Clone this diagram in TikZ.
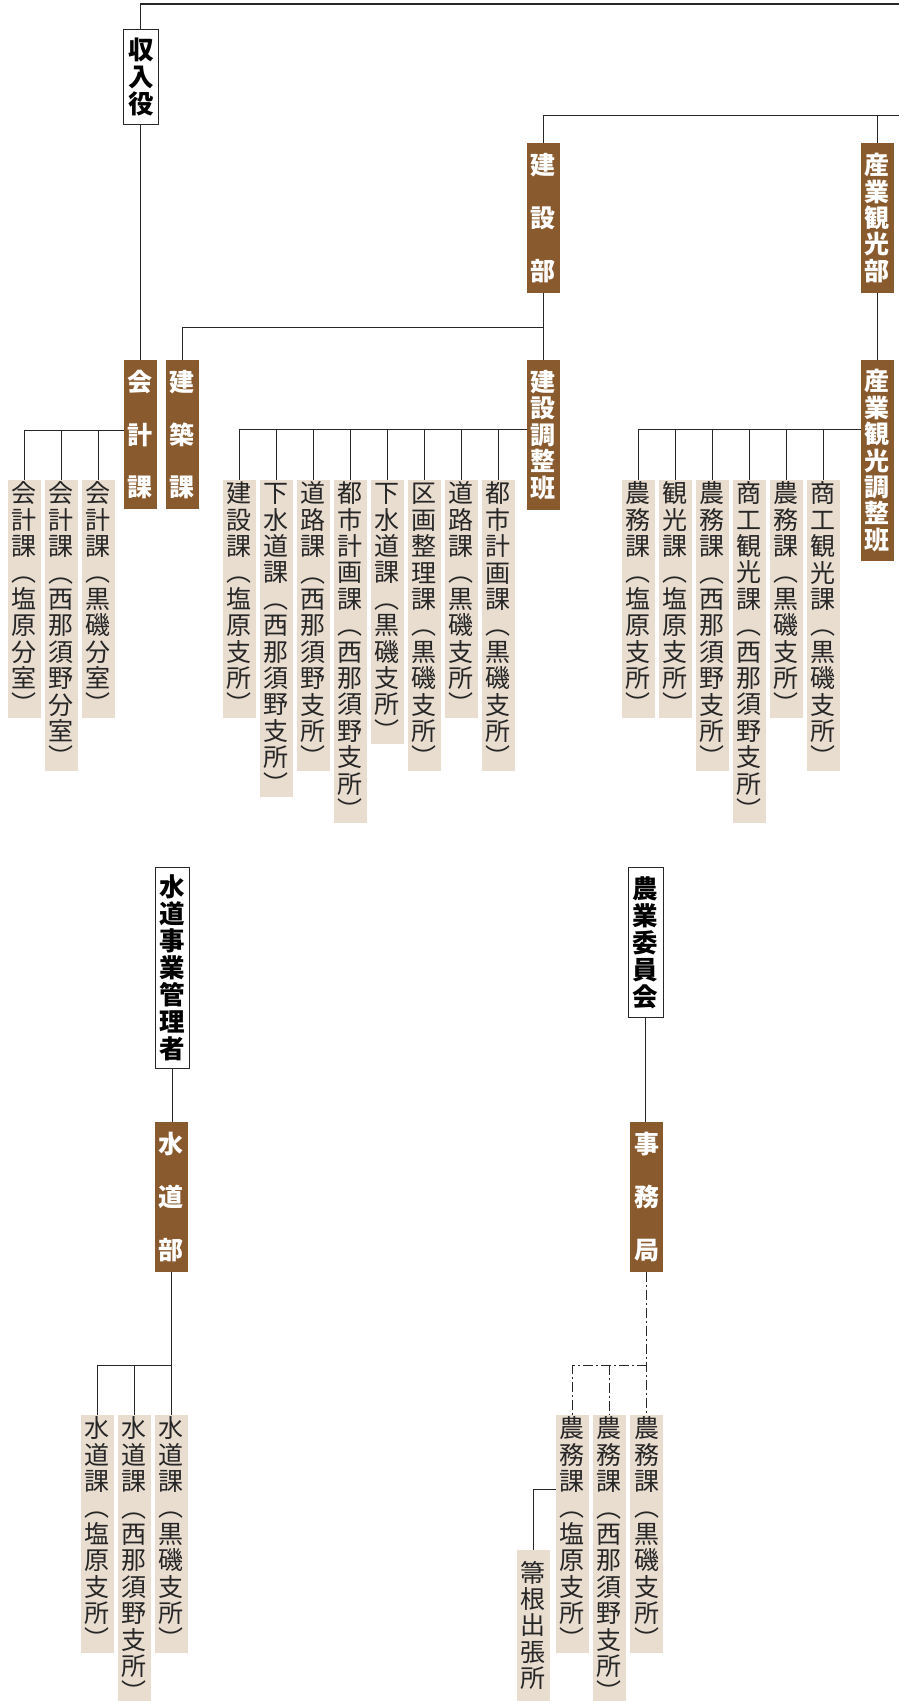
\documentclass[tikz,border=0pt]{standalone}
\usepackage{fontspec}
\newfontfamily\jp{Noto Sans CJK JP}
\definecolor{brownc}{RGB}{137,90,46}
\definecolor{beigec}{RGB}{233,221,208}
\definecolor{linec}{RGB}{40,40,40}
\definecolor{textc}{RGB}{38,38,38}
\def\vtxtloop#1{\ifx#1\relax\else\hbox to 1.2em{\hss\vrule height .908em depth .148em width 0pt #1\hss}\expandafter\vtxtloop\fi}
\newcommand\vtxt[1]{\vbox{\offinterlineskip\vtxtloop#1\relax}}
\tikzset{
  conn/.style={draw=linec, line width=1.2pt},
  ddot/.style={conn, dash pattern=on 10pt off 3pt on 2pt off 3pt},
  bx/.style={anchor=north west, inner sep=0pt, outer sep=0pt, minimum width=32.7pt},
  beige/.style={bx, fill=beigec, text=textc, font=\jp\fontsize{25}{25}\selectfont},
  brown/.style={bx, fill=brownc, text=white, font=\jp\bfseries\fontsize{25}{25}\selectfont},
  head/.style={bx, draw=linec, line width=1pt, fill=white, text=black, font=\jp\bfseries\fontsize{25.5}{25.5}\selectfont, minimum width=34.5pt},
}
\begin{document}
\begin{tikzpicture}[x=1pt,y=-1pt]
\fill[white] (0,0) rectangle (899,1701);
\useasboundingbox (0,0) rectangle (899,1701);

% top level
\node[head, minimum height=95pt, minimum width=34.3pt] (shunyu) at (123.7,29.3) {\vtxt{収入役}};
\node[brown, minimum height=149.3pt] (kaikei) at (124,360) {\vtxt{会　計　課}};
\node[brown, minimum height=149.3pt] (kenchiku) at (166,360) {\vtxt{建　築　課}};
\node[brown, minimum height=149.4pt] (kensetsubu) at (527,143.2) {\vtxt{建　設　部}};
\node[brown, minimum height=149.4pt] (sangyobu) at (861,143.2) {\vtxt{産業観光部}};
\node[brown, minimum height=149.7pt] (kchosei) at (527,360) {\vtxt{建設調整班}};
\node[brown, minimum height=201.2pt] (schosei) at (861,360) {\vtxt{産業観光調整班}};

% kaikei children
\node[beige, minimum height=237.3pt] (k1) at (8,480) {\vtxt{会計課︵塩原分室︶}};
\node[beige, minimum height=290.7pt] (k2) at (45,480) {\vtxt{会計課︵西那須野分室︶}};
\node[beige, minimum height=237.3pt] (k3) at (82,480) {\vtxt{会計課︵黒磯分室︶}};

% kensetsu children
\node[beige, minimum height=237.3pt] (c1) at (223,480) {\vtxt{建設課︵塩原支所︶}};
\node[beige, minimum height=316.7pt] (c2) at (260,480) {\vtxt{下水道課︵西那須野支所︶}};
\node[beige, minimum height=290.7pt] (c3) at (297,480) {\vtxt{道路課︵西那須野支所︶}};
\node[beige, minimum height=343.3pt] (c4) at (334,480) {\vtxt{都市計画課︵西那須野支所︶}};
\node[beige, minimum height=263.3pt] (c5) at (371,480) {\vtxt{下水道課︵黒磯支所︶}};
\node[beige, minimum height=290.7pt] (c6) at (408,480) {\vtxt{区画整理課︵黒磯支所︶}};
\node[beige, minimum height=237.3pt] (c7) at (445,480) {\vtxt{道路課︵黒磯支所︶}};
\node[beige, minimum height=290.7pt] (c8) at (482,480) {\vtxt{都市計画課︵黒磯支所︶}};

% sangyo children
\node[beige, minimum height=237.3pt] (s1) at (622,480) {\vtxt{農務課︵塩原支所︶}};
\node[beige, minimum height=237.3pt] (s2) at (659,480) {\vtxt{観光課︵塩原支所︶}};
\node[beige, minimum height=290.7pt] (s3) at (696,480) {\vtxt{農務課︵西那須野支所︶}};
\node[beige, minimum height=343.3pt] (s4) at (733,480) {\vtxt{商工観光課︵西那須野支所︶}};
\node[beige, minimum height=237.3pt] (s5) at (770,480) {\vtxt{農務課︵黒磯支所︶}};
\node[beige, minimum height=290.7pt] (s6) at (807,480) {\vtxt{商工観光課︵黒磯支所︶}};

% suido
\node[head, minimum height=200.6pt, minimum width=34.7pt] (suidokanri) at (155,867.7) {\vtxt{水道事業管理者}};
\node[brown, minimum height=149.7pt] (suidobu) at (155,1122) {\vtxt{水　道　部}};
\node[beige, minimum height=237.3pt] (w1) at (81,1415) {\vtxt{水道課︵塩原支所︶}};
\node[beige, minimum height=290.7pt] (w2) at (118,1415) {\vtxt{水道課︵西那須野支所︶}};
\node[beige, minimum height=237.3pt] (w3) at (155,1415) {\vtxt{水道課︵黒磯支所︶}};

% nogyo
\node[head, minimum height=149.6pt, minimum width=34.7pt] (nogyo) at (628.3,867.7) {\vtxt{農業委員会}};
\node[brown, minimum height=149.7pt, minimum width=33pt] (jimu) at (630,1122) {\vtxt{事　務　局}};
\node[beige, minimum height=237.3pt] (n1) at (556,1415) {\vtxt{農務課︵塩原支所︶}};
\node[beige, minimum height=290.7pt] (n2) at (593,1415) {\vtxt{農務課︵西那須野支所︶}};
\node[beige, minimum height=237.3pt, minimum width=33pt] (n3) at (630,1415) {\vtxt{農務課︵黒磯支所︶}};
\node[beige, minimum height=150.7pt] (houki) at (517,1550) {\vtxt{箒根出張所}};

% connectors
\coordinate (topR) at (899,4);
\coordinate (midR) at (899,115.8);
\draw[conn] (shunyu.north) |- (topR);
\draw[conn] (kensetsubu.north) |- (midR);
\draw[conn] (sangyobu.north) -- (sangyobu.north |- midR);
\draw[conn] (shunyu.south) -- (shunyu.south |- kaikei.north);
\draw[conn] (kensetsubu.south) -- (kchosei.north);
\coordinate (kjunc) at (543.35,327.4);
\draw[conn] (kenchiku.north) |- (kjunc);
\draw[conn] (sangyobu.south) -- (schosei.north);

\coordinate (kbus) at (124,430.7);
\foreach \n in {k1,k2,k3} \draw[conn] (kbus) -| (\n.north);
\coordinate (cbus) at (527,429.3);
\foreach \n in {c1,c2,c3,c4,c5,c6,c7,c8} \draw[conn] (cbus) -| (\n.north);
\coordinate (sbus) at (861,429.3);
\foreach \n in {s1,s2,s3,s4,s5,s6} \draw[conn] (sbus) -| (\n.north);

\draw[conn] (suidokanri.south) -- (suidokanri.south |- suidobu.north);
\draw[conn] (suidobu.south) -- (w3.north);
\coordinate (wbus) at (171.35,1365.7);
\foreach \n in {w1,w2} \draw[conn] (wbus) -| (\n.north);

\draw[conn] (nogyo.south) -- (nogyo.south |- jimu.north);
\draw[ddot] (jimu.south) -- (n3.north);
\coordinate (nbus) at (646.5,1365.7);
\foreach \n in {n1,n2} \draw[ddot] (nbus) -| (\n.north);
\coordinate (hj) at (556,1489.3);
\draw[conn] (hj) -| (houki.north);
\end{tikzpicture}
\end{document}
